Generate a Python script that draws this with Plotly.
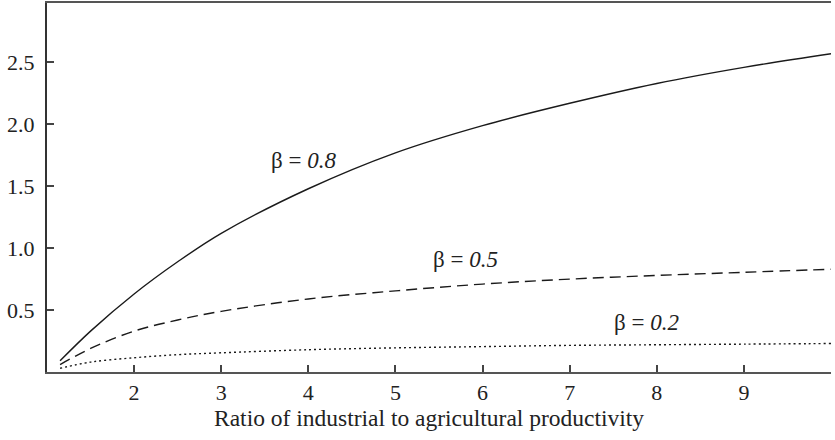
import plotly.graph_objects as go

ratio = [1.15, 1.5, 2, 2.5, 3, 4, 5, 6, 7, 8, 9, 10]
beta_08 = [0.09, 0.33, 0.63, 0.89, 1.12, 1.48, 1.77, 1.99, 2.17, 2.33, 2.46, 2.57]
beta_05 = [0.06, 0.19, 0.33, 0.42, 0.49, 0.59, 0.655, 0.71, 0.75, 0.78, 0.805, 0.83]
beta_02 = [0.03, 0.08, 0.115, 0.14, 0.155, 0.18, 0.195, 0.205, 0.215, 0.22, 0.225, 0.23]

x_ticks = [2, 3, 4, 5, 6, 7, 8, 9, 10]
x_ticktext = ["2", "3", "4", "5", "6", "7", "8", "9", ""]
y_ticks = [0.5, 1.0, 1.5, 2.0, 2.5]
y_ticktext = ["0.5", "1.0", "1.5", "2.0", "2.5"]

labels = [("β = <i>0.8</i>", 3.94, 1.71), ("β = <i>0.5</i>", 5.80, 0.905), ("β = <i>0.2</i>", 7.88, 0.40)]
x_title = "Ratio of industrial to agricultural productivity"

FONT = "Liberation Serif, Times New Roman, serif"

fig = go.Figure()
fig.add_trace(go.Scatter(x=ratio, y=beta_08, mode="lines", line=dict(color="#1a1a1a", width=1.4, shape="spline"), showlegend=False))
fig.add_trace(go.Scatter(x=ratio, y=beta_05, mode="lines", line=dict(color="#1a1a1a", width=1.4, shape="spline", dash="11px,6px"), showlegend=False))
fig.add_trace(go.Scatter(x=ratio, y=beta_02, mode="lines", line=dict(color="#1a1a1a", width=1.4, shape="spline", dash="2px,3px"), showlegend=False))

for txt, xx, yy in labels:
    fig.add_annotation(x=xx, y=yy, text=txt, showarrow=False, font=dict(family=FONT, size=23, color="#222"))

fig.add_annotation(x=0.487, y=-0.124, xref="paper", yref="paper", text=x_title, showarrow=False,
                   xanchor="center", yanchor="middle", font=dict(family=FONT, size=23.5, color="#222"))

fig.update_layout(
    width=835, height=440,
    margin=dict(l=47, r=4, t=3, b=68, autoexpand=False),
    paper_bgcolor="white", plot_bgcolor="white",
    font=dict(family=FONT, size=22, color="#222"),
)
fig.update_xaxes(
    range=[1, 10], tickvals=x_ticks, ticktext=x_ticktext, automargin=False,
    ticks="inside", ticklen=7, tickwidth=1.5, tickcolor="#444",
    showline=True, linecolor="#555", linewidth=2, mirror=True,
    showgrid=False, zeroline=False,
    tickfont=dict(family=FONT, size=22),
)
fig.update_yaxes(
    range=[0, 2.98], tickvals=y_ticks, ticktext=y_ticktext, automargin=False,
    ticks="inside", ticklen=7, tickwidth=1.5, tickcolor="#444",
    showline=True, linecolor="#333", linewidth=2,
    showgrid=False, zeroline=False, ticklabelstandoff=6,
    tickfont=dict(family=FONT, size=22),
)

fig.write_html("out.html", config={"displayModeBar": False},
               post_script="document.body.style.margin='0';document.body.style.padding='0';")
